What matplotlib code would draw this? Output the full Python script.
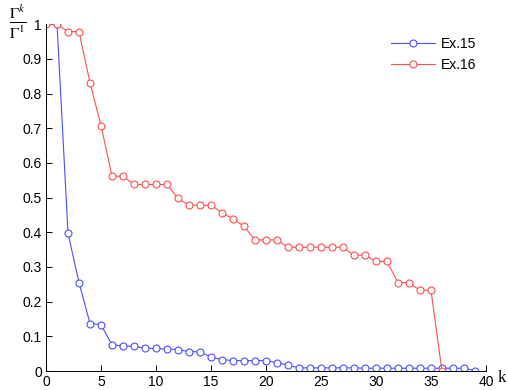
import matplotlib
matplotlib.use("Agg")
import matplotlib.pyplot as plt
import numpy as np

# data
k_ex15 = list(range(1, 40))
ex15 = [1.0, 0.397, 0.255, 0.137, 0.134, 0.075, 0.073, 0.071, 0.066, 0.065,
        0.063, 0.062, 0.056, 0.055, 0.040, 0.033, 0.030, 0.030, 0.030, 0.030,
        0.024, 0.017, 0.009, 0.009, 0.009, 0.009, 0.009, 0.009, 0.008, 0.008,
        0.008, 0.008, 0.008, 0.008, 0.008, 0.008, 0.008, 0.008, 0.001]

k_ex16 = list(range(0, 37))
ex16 = [1.0, 1.0, 0.979, 0.979, 0.831, 0.708, 0.562, 0.562, 0.538, 0.538,
        0.538, 0.538, 0.498, 0.478, 0.478, 0.478, 0.457, 0.438, 0.418, 0.378,
        0.378, 0.378, 0.357, 0.357, 0.357, 0.357, 0.357, 0.357, 0.334, 0.334,
        0.316, 0.316, 0.255, 0.255, 0.233, 0.233, 0.0]

xticks = np.arange(0, 41, 5)
yticks = np.arange(0, 1.01, 0.1)
ytick_labels = ["0", "0.1", "0.2", "0.3", "0.4", "0.5", "0.6", "0.7", "0.8", "0.9", "1"]

fontsize = 10
plt.rcParams["font.family"] = ["Liberation Sans", "DejaVu Sans"]
plt.rcParams["mathtext.fontset"] = "stix"

fig = plt.figure(figsize=(5.08, 3.90), dpi=100)
ax = fig.add_axes([0.0906, 0.0487, 0.866, 0.889])

blue = "#4d4dff"
red = "#ff4d4d"
ax.plot(k_ex15, ex15, "-o", color=blue, lw=0.8, markersize=5,
        markerfacecolor="white", markeredgewidth=0.8, label="Ex.15")
ax.plot(k_ex16, ex16, "-o", color=red, lw=0.8, markersize=5,
        markerfacecolor="white", markeredgewidth=0.8, label="Ex.16")

ax.set_xlim(0, 40)
ax.set_ylim(0, 1)
ax.set_xticks(xticks)
ax.set_yticks(yticks)
ax.set_yticklabels(ytick_labels)
ax.tick_params(direction="in", length=4, width=0.7, labelsize=fontsize, pad=3)
for side in ["top", "right"]:
    ax.spines[side].set_visible(False)
for side in ["left", "bottom"]:
    ax.spines[side].set_linewidth(0.7)

fig.text(498 / 508, 1 - 378 / 390, "k", fontsize=12, family="Liberation Serif",
         ha="left", va="center")
fig.text(18 / 508, 1 - 22 / 390, r"$\frac{\Gamma^k}{\Gamma^1}$", fontsize=16,
         ha="center", va="center")

ax.legend(loc="upper right", bbox_to_anchor=(0.99, 0.98), frameon=False,
          fontsize=fontsize, handlelength=3.2, handletextpad=0.4,
          labelspacing=0.5, borderaxespad=0)

plt.savefig("out.png", dpi=100)
